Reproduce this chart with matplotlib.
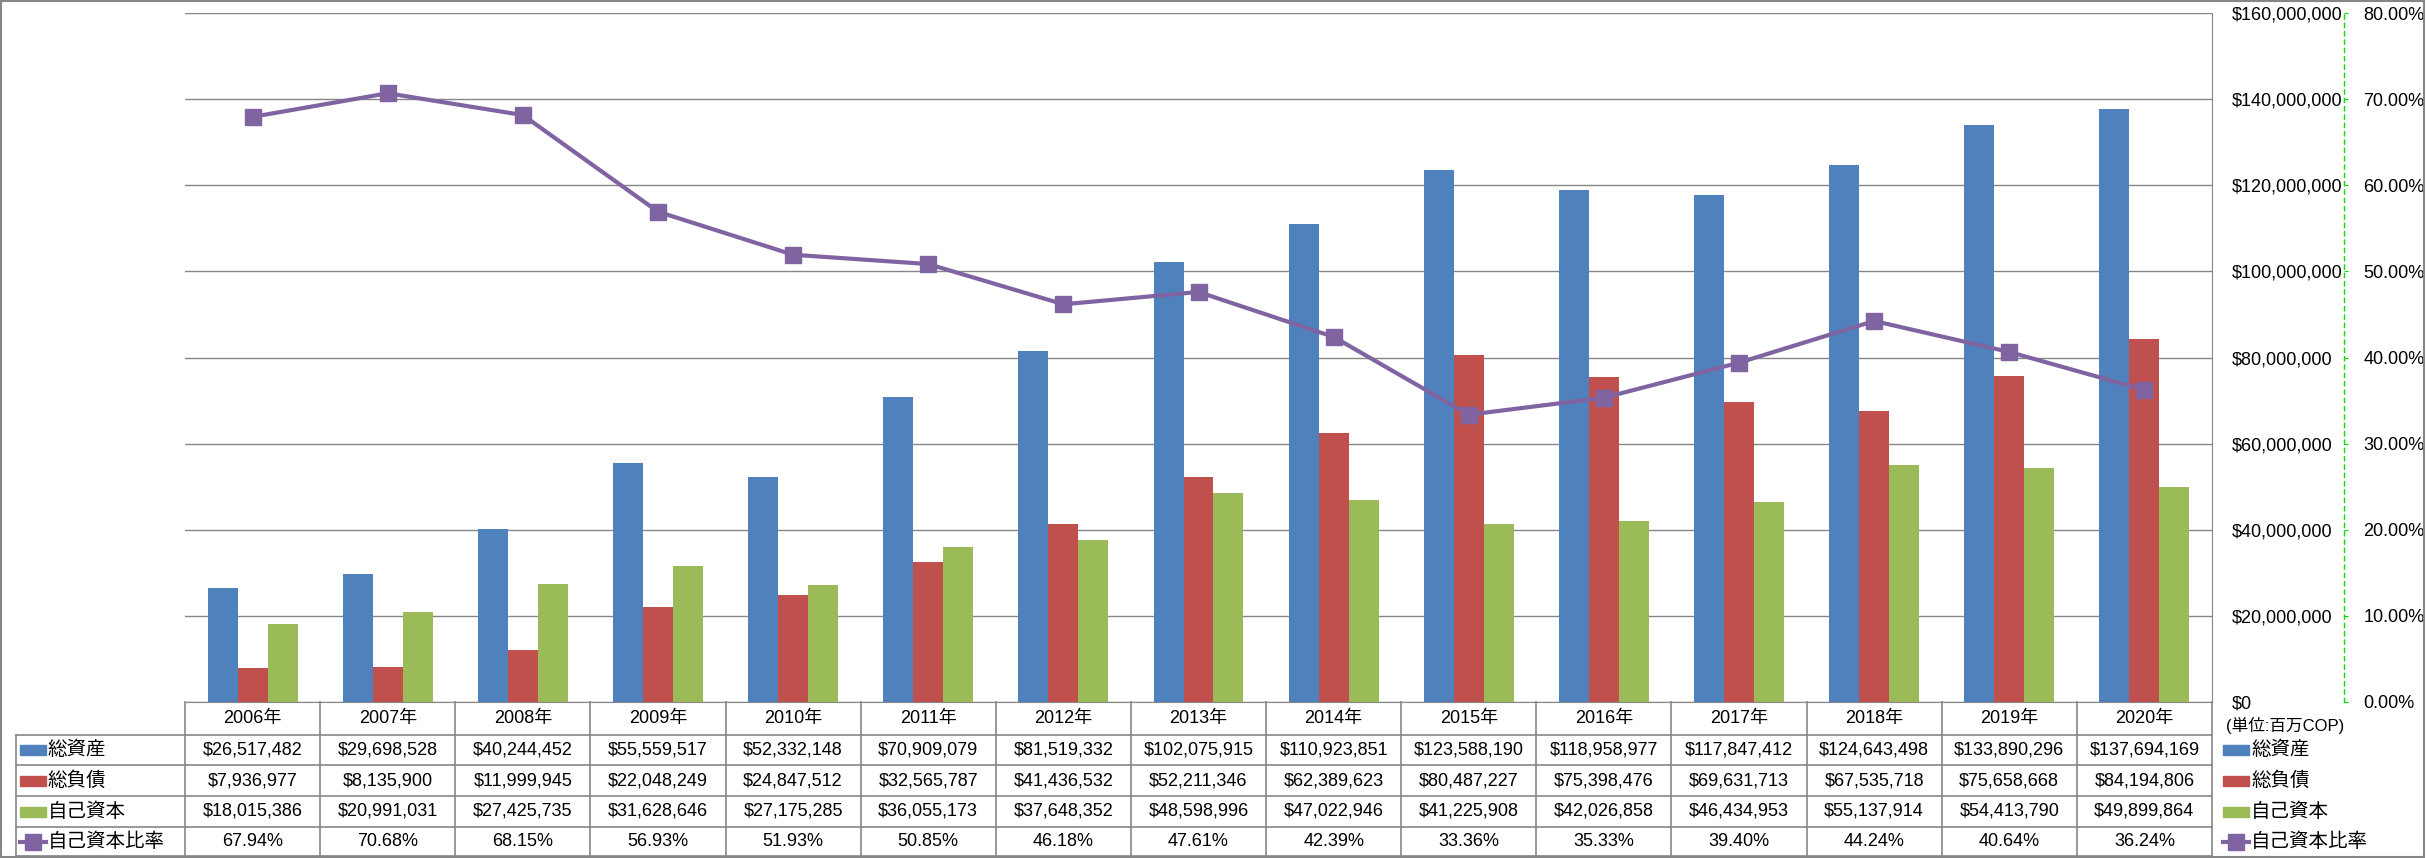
import matplotlib.pyplot as plt
from matplotlib.lines import Line2D
from matplotlib.patches import Rectangle
from matplotlib.ticker import FuncFormatter, MultipleLocator
from matplotlib.transforms import blended_transform_factory

plt.rcParams["font.family"] = ["Liberation Sans", "Noto Sans CJK JP"]

years = ["2006年", "2007年", "2008年", "2009年", "2010年", "2011年", "2012年", "2013年",
         "2014年", "2015年", "2016年", "2017年", "2018年", "2019年", "2020年"]
total_assets = [26517482, 29698528, 40244452, 55559517, 52332148, 70909079, 81519332, 102075915,
                110923851, 123588190, 118958977, 117847412, 124643498, 133890296, 137694169]
total_liab = [7936977, 8135900, 11999945, 22048249, 24847512, 32565787, 41436532, 52211346,
              62389623, 80487227, 75398476, 69631713, 67535718, 75658668, 84194806]
equity = [18015386, 20991031, 27425735, 31628646, 27175285, 36055173, 37648352, 48598996,
          47022946, 41225908, 42026858, 46434953, 55137914, 54413790, 49899864]
equity_ratio = [67.94, 70.68, 68.15, 56.93, 51.93, 50.85, 46.18, 47.61,
                42.39, 33.36, 35.33, 39.40, 44.24, 40.64, 36.24]

series_names = ["総資産", "総負債", "自己資本"]
ratio_name = "自己資本比率"
unit_label = "(単位:百万COP)"

BLUE, RED, GREEN, PURPLE = "#4F81BD", "#C0504D", "#9BBB59", "#8064A2"
GRID = "#868686"

W, H = 2426, 858
fig = plt.figure(figsize=(W / 100, H / 100), dpi=100)


def fx(px):
    return px / W


def fy(py):
    return 1 - py / H


# plot area in pixels
left, top, right, bottom = 185, 13, 2212, 702
ax = fig.add_axes([fx(left), fy(bottom), fx(right - left), (bottom - top) / H])

n = len(years)
xs = list(range(n))
bw = 0.222
bar_sets = [total_assets, total_liab, equity]
colors = [BLUE, RED, GREEN]
for k, (vals, c) in enumerate(zip(bar_sets, colors)):
    ax.bar([x + (k - 1) * bw for x in xs], vals, width=bw, color=c, zorder=3)

ax.set_xlim(-0.5, n - 0.5)
ax.set_ylim(0, 160_000_000)
ax.yaxis.set_major_locator(MultipleLocator(20_000_000))
ax.yaxis.grid(True, color=GRID, lw=1.0)
ax.set_axisbelow(True)
ax.set_xticks([])
for s in ["left", "top"]:
    ax.spines[s].set_visible(False)
ax.spines["right"].set_color(GRID)
ax.spines["bottom"].set_color(GRID)
ax.yaxis.set_major_formatter(FuncFormatter(lambda v, p: "${:,.0f}".format(v)))

ax2 = ax.twinx()
# twinx moves the primary ticks to the left, put them back on the right
ax.yaxis.tick_right()
ax.tick_params(axis="y", length=0, pad=14.5, labelsize=13)

ax2.plot(xs, [r / 100 for r in equity_ratio], color=PURPLE, lw=3, marker="s",
         markersize=12, markerfacecolor=PURPLE, markeredgecolor=PURPLE, zorder=5)
ax2.set_ylim(0, 0.8)
ax2.yaxis.set_major_locator(MultipleLocator(0.1))
ax2.yaxis.set_major_formatter(FuncFormatter(lambda v, p: "{:.2f}%".format(v * 100)))
for s in ["left", "top", "bottom"]:
    ax2.spines[s].set_visible(False)
ax2.spines["right"].set_position(("axes", (2344 - left) / (right - left)))
ax2.spines["right"].set_color("#00DD00")
ax2.spines["right"].set_linestyle((0, (3, 3)))
ax2.spines["right"].set_linewidth(1.0)
ax2.tick_params(axis="y", length=3, color="#00DD00", pad=11, labelsize=13)

# data table
tr = blended_transform_factory(ax.transData, fig.transFigure)
row_y = [702, 735, 765, 796, 827, 856]
lk = dict(color=GRID, lw=1.2, clip_on=False)
for yy in row_y[1:]:
    fig.add_artist(Line2D([fx(16), fx(right)], [fy(yy), fy(yy)], **lk))
fig.add_artist(Line2D([fx(16), fx(16)], [fy(735), fy(856)], **lk))
fig.add_artist(Line2D([fx(right), fx(right)], [fy(bottom), fy(856)], **lk))
for i in range(n):
    fig.add_artist(Line2D([i - 0.5, i - 0.5], [fy(702), fy(856)], transform=tr, **lk))

centers = [(row_y[j] + row_y[j + 1]) / 2 for j in range(5)]
for i in xs:
    fig.text(i, fy(centers[0]), years[i], transform=tr, ha="center", va="center", fontsize=13)
    for j, vals in enumerate(bar_sets):
        fig.text(i, fy(centers[j + 1]), "${:,}".format(vals[i]),
                 transform=tr, ha="center", va="center", fontsize=13)
    fig.text(i, fy(centers[4]), "{:.2f}%".format(equity_ratio[i]), transform=tr,
             ha="center", va="center", fontsize=13)


def key(xp, cy, j):
    if j < 3:
        fig.add_artist(Rectangle((fx(xp), fy(cy + 5)), fx(26), 10 / H, color=colors[j]))
        name = series_names[j]
    else:
        fig.add_artist(Line2D([fx(xp), fx(xp + 26)], [fy(cy), fy(cy)], color=PURPLE, lw=3))
        fig.add_artist(Line2D([fx(xp + 13)], [fy(cy)], color=PURPLE, marker="s", markersize=11))
        name = ratio_name
    fig.text(fx(xp + 28), fy(cy), name, ha="left", va="center", fontsize=14)


for j in range(4):
    key(20, centers[j + 1], j)
    key(2223, centers[j + 1], j)

fig.text(fx(2226), fy(725), unit_label, ha="left", va="center", fontsize=12)

# outer border
fig.add_artist(Rectangle((fx(1), fy(857)), fx(W - 3), (H - 2) / H, fill=False,
                         edgecolor=GRID, lw=1.5))

fig.savefig("out.png", dpi=100)
